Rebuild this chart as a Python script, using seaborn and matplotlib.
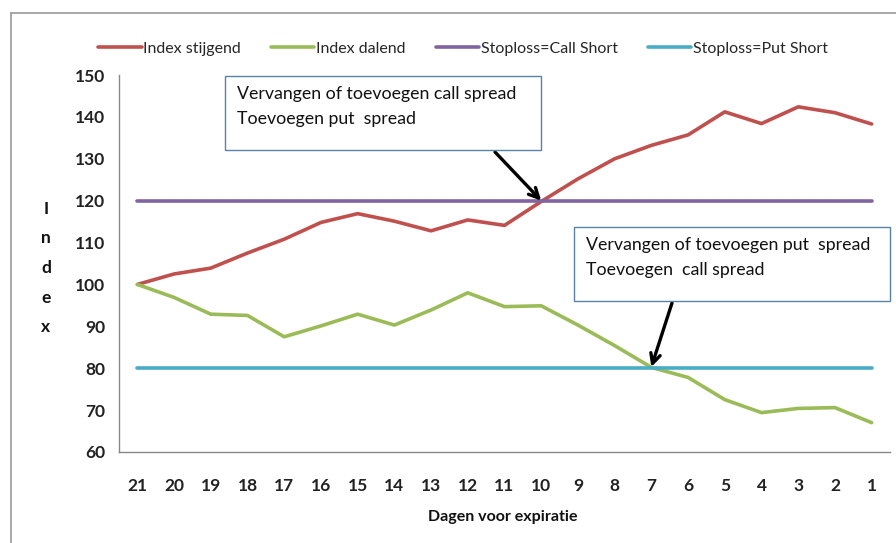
import matplotlib
matplotlib.use("Agg")
import matplotlib.pyplot as plt
import seaborn as sns
import pandas as pd
from matplotlib.lines import Line2D
from matplotlib.patches import Rectangle

days = ["21", "20", "19", "18", "17", "16", "15", "14", "13", "12", "11",
        "10", "9", "8", "7", "6", "5", "4", "3", "2", "1"]
index_stijgend = [100, 102.5, 103.9, 107.5, 110.8, 114.8, 116.9, 115.1, 112.8, 115.4, 114.1,
                  119.8, 125.2, 130.0, 133.2, 135.7, 141.2, 138.4, 142.4, 141.0, 138.3]
index_dalend = [100, 96.9, 92.9, 92.6, 87.5, 90.1, 92.9, 90.3, 93.9, 98.0, 94.7,
                94.9, 90.3, 85.4, 80.2, 77.8, 72.5, 69.4, 70.4, 70.6, 67.0]
stoploss_call = [120] * 21
stoploss_put = [80] * 21

series_names = ["Index stijgend", "Index dalend", "Stoploss=Call Short", "Stoploss=Put Short"]
colors = ["#C0504D", "#9BBB59", "#8064A2", "#4BACC6"]

pos = list(range(len(days)))
frames = []
for name, vals in zip(series_names, [index_stijgend, index_dalend, stoploss_call, stoploss_put]):
    frames.append(pd.DataFrame({"pos": pos, "dag": days, "waarde": vals, "serie": name}))
df = pd.concat(frames, ignore_index=True)

sns.set_style("white")
plt.rcParams['font.family'] = ['Lato', 'DejaVu Sans']

fig = plt.figure(figsize=(8.96, 5.43), dpi=100)
W, H = 896, 543
ax = fig.add_axes([119 / W, (H - 452) / H, 771 / W, (452 - 75) / H])

sns.lineplot(data=df, x="pos", y="waarde", hue="serie", hue_order=series_names,
             palette=colors, linewidth=2.6, ax=ax, legend=False)

ax.set_xlim(-0.5, len(days) - 0.5)
ax.set_ylim(60, 150)
ax.set_yticks(range(60, 151, 10))
ax.set_xticks(pos)
ax.set_xticklabels(days)
ax.set_xticks([p - 0.5 for p in pos] + [len(days) - 0.5], minor=True)
ax.tick_params(axis="x", which="major", length=0, pad=19, labelsize=12.5)
ax.tick_params(axis="x", which="minor", length=6, width=1, color="#888888", direction="out")
ax.tick_params(axis="y", length=6, width=1, color="#888888", direction="out", labelsize=12.5, pad=4)
for lbl in ax.get_xticklabels() + ax.get_yticklabels():
    lbl.set_fontweight("bold")
    lbl.set_color("#222222")
ax.set_xlabel("")
ax.set_ylabel("")
for s in ["top", "right"]:
    ax.spines[s].set_visible(False)
for s in ["left", "bottom"]:
    ax.spines[s].set_color("#888888")
    ax.spines[s].set_linewidth(1)

fig.text(503 / W, 1 - 517 / H, "Dagen voor expiratie", ha="center", va="center",
         fontsize=11.5, fontweight="bold", color="#111111")
fig.text(46 / W, 1 - 268 / H, "I\nn\nd\ne\nx", ha="center", va="center",
         fontsize=12.5, fontweight="bold", linespacing=2.05, color="#111111")

handles = [Line2D([0], [0], color=c, lw=2.6) for c in colors]
fig.legend(handles, series_names, loc="center", bbox_to_anchor=(463 / W, 1 - 49 / H),
           ncol=4, frameon=False, fontsize=11.5, handlelength=2.7, handletextpad=0.1,
           columnspacing=1.9)

# outer chart frame (left and top)
fig.add_artist(Line2D([11 / W, 11 / W], [0, 1 - 13 / H], transform=fig.transFigure,
                      color="#999999", lw=1.2))
fig.add_artist(Line2D([11 / W, 1], [1 - 13 / H, 1 - 13 / H], transform=fig.transFigure,
                      color="#999999", lw=1.2))

def box(x0, y0, x1, y1, lines):
    r = Rectangle((x0 / W, 1 - y1 / H), (x1 - x0) / W, (y1 - y0) / H,
                  transform=fig.transFigure, facecolor="white", edgecolor="#5B82A8", lw=1.0)
    fig.add_artist(r)
    fig.text((x0 + 12) / W, 1 - (y0 + 18) / H, lines[0], ha="left", va="center",
             fontsize=12.8, color="#111111")
    fig.text((x0 + 12) / W, 1 - (y0 + 43) / H, lines[1], ha="left", va="center",
             fontsize=12.8, color="#111111")

box(225, 76, 541, 150, ["Vervangen of toevoegen call spread", "Toevoegen put  spread"])
box(574, 227, 890, 301, ["Vervangen of toevoegen put  spread", "Toevoegen  call spread"])

arrow = dict(arrowstyle="->,head_length=0.7,head_width=0.35", color="black", lw=2.4,
             shrinkA=0, shrinkB=0)
ax.annotate("", xy=(11, 120), xycoords="data",
            xytext=(495 / W, 1 - 152 / H), textcoords="figure fraction", arrowprops=arrow)
ax.annotate("", xy=(14, 80.3), xycoords="data",
            xytext=(672 / W, 1 - 303 / H), textcoords="figure fraction", arrowprops=arrow)

fig.savefig("out.png", dpi=100, facecolor="white")
